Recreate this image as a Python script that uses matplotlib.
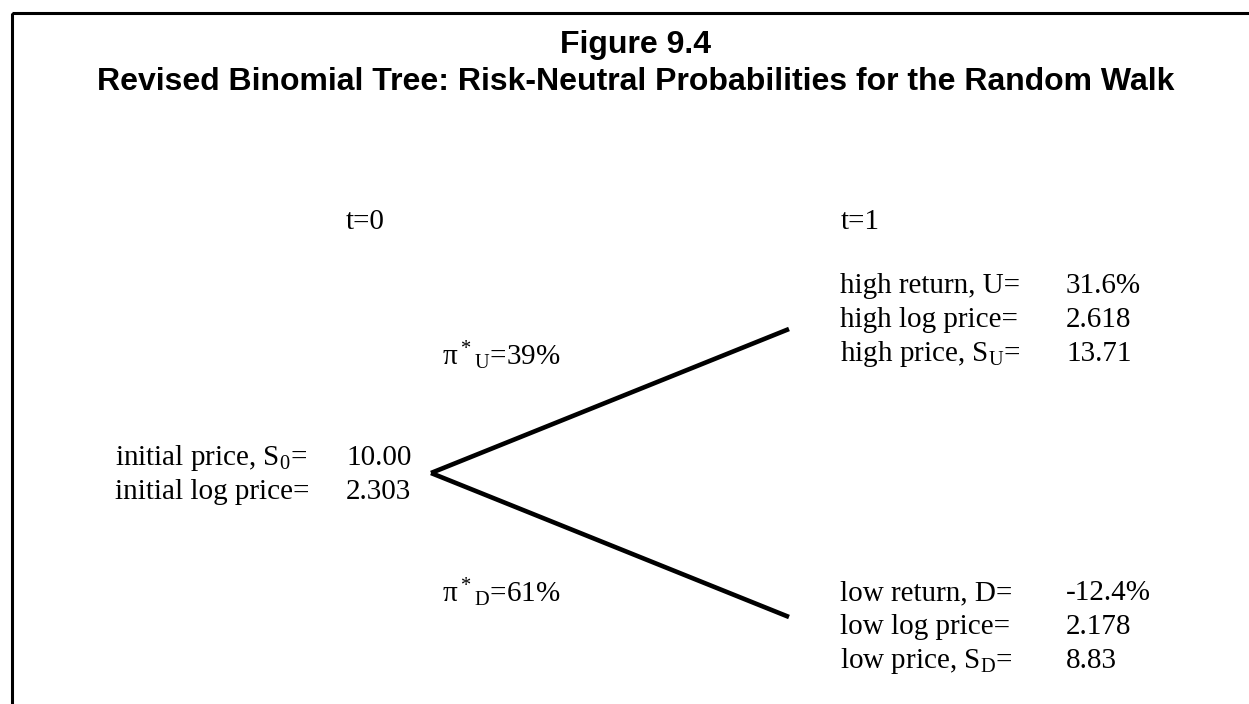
import matplotlib
matplotlib.use("Agg")
import matplotlib.pyplot as plt
from matplotlib.patches import Rectangle

plt.rcParams['font.family'] = ['Liberation Serif', 'DejaVu Serif']
plt.rcParams['mathtext.fontset'] = 'custom'
plt.rcParams['mathtext.rm'] = 'Liberation Serif'
plt.rcParams['mathtext.it'] = 'Liberation Serif'
plt.rcParams['mathtext.default'] = 'rm'

title_lines = ["Figure 9.4",
               "Revised Binomial Tree: Risk-Neutral Probabilities for the Random Walk"]
time_labels = ["t=0", "t=1"]
times = [0, 1]
branches = [1, -1]  # up, down

start_labels = [r"initial price, S$_0$=", "initial log price="]
start_values = ["10.00", "2.303"]
up_labels = ["high return, U=", "high log price=", r"high price, S$_\mathrm{U}$="]
up_values = ["31.6%", "2.618", "13.71"]
down_labels = ["low return, D=", "low log price=", r"low price, S$_\mathrm{D}$="]
down_values = ["-12.4%", "2.178", "8.83"]
prob_labels = [r"π$^*{}_\mathrm{U}$=39%", r"π$^*{}_\mathrm{D}$=61%"]

W, H = 1249, 704
fig = plt.figure(figsize=(W / 100, H / 100), dpi=100)
ax = fig.add_axes([0, 0, 1, 1])
ax.set_xlim(0, W)
ax.set_ylim(H, 0)
ax.axis('off')

# frame (open at right and bottom edges of the picture)
ax.add_patch(Rectangle((12, 13), W + 20, H + 20, fill=False, lw=2.2, ec='black'))

for txt, y in zip(title_lines, [53, 90]):
    ax.text(636, y, txt, ha='center', va='baseline', fontsize=23,
            fontweight='bold', family=['Liberation Sans', 'DejaVu Sans'])

fs = 21
lh = 34
for txt, x in zip(time_labels, [346, 841]):
    ax.text(x, 229, txt, ha='left', va='baseline', fontsize=fs)

def block(x_lab, x_val, y0, labels, values):
    for i, (lab, val) in enumerate(zip(labels, values)):
        y = y0 + lh * i
        ax.text(x_lab, y, lab, ha='left', va='baseline', fontsize=fs)
        ax.text(x_val, y, val, ha='left', va='baseline', fontsize=fs)

block(115, 346, 465, start_labels, start_values)
block(840, 1066, 293, up_labels, up_values)
block(840, 1066, 600, down_labels, down_values)

for txt, y in zip(prob_labels, [365, 602]):
    ax.text(442, y, txt, ha='left', va='baseline', fontsize=fs)

# tree drawn in its own axes: t=0 -> t=1, branches at +/-1
tree = fig.add_axes([431 / W, 1 - 617 / H, (789 - 431) / W, (617 - 329) / H])
tree.set_xlim(0, 1)
tree.set_ylim(-1, 1)
tree.axis('off')
for b in branches:
    tree.plot(times, [0, b], color='black', lw=3.3, solid_capstyle='butt', clip_on=False)

fig.savefig("out.png", dpi=100)
